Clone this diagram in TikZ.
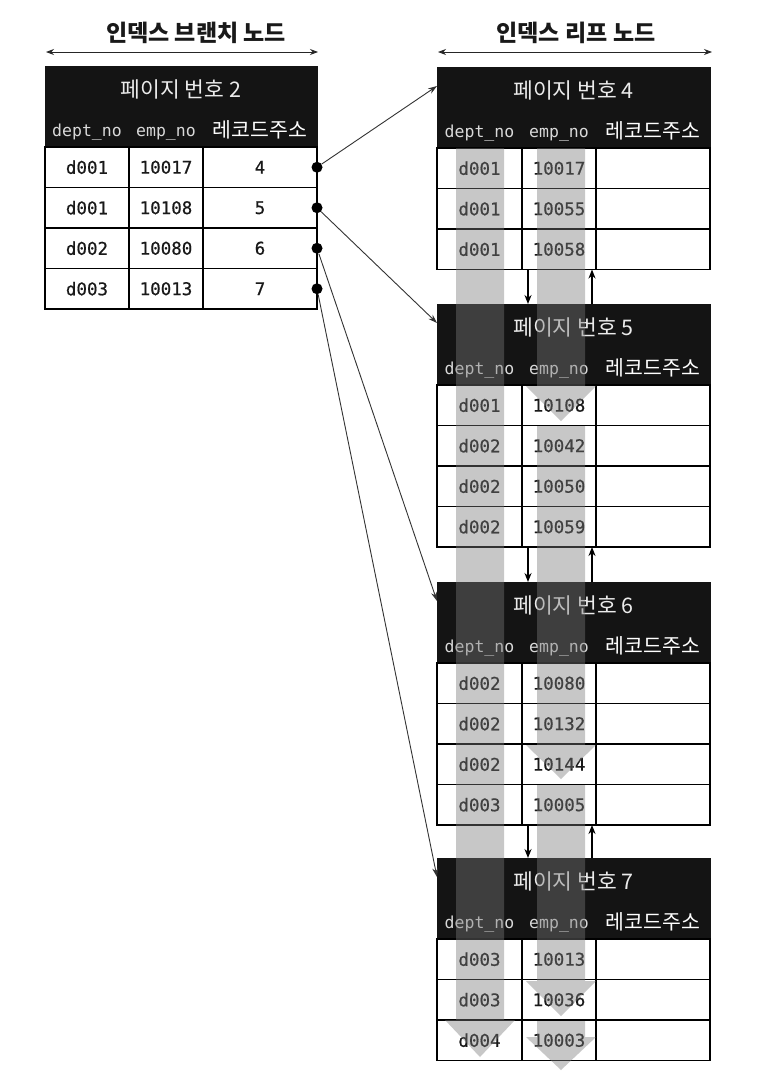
\documentclass[tikz,border=0pt]{standalone}
\usepackage{fontspec}
\setmainfont{Noto Sans CJK KR}
\newfontfamily\kr{Noto Sans CJK KR}
\newfontfamily\mono[FakeBold=0.6]{DejaVu Sans Mono}
\newfontfamily\monolight{DejaVu Sans Mono}
\usetikzlibrary{arrows.meta}

\tikzset{
  hdr/.style={fill=black!92, draw=black!92, line width=1pt, inner sep=0},
  cellbox/.style={draw=black, line width=1.3pt, fill=white, inner sep=0, minimum height=40.5pt,
    font=\mono\fontsize{17.5}{17.5}\selectfont, text=black!90},
  titletxt/.style={font=\kr\fontsize{21.5}{21.5}\selectfont, text=black!8, inner sep=0, anchor=base},
  colmono/.style={font=\monolight\fontsize{16.5}{16.5}\selectfont, text=black!15, inner sep=0, anchor=base},
  colkr/.style={font=\kr\fontsize{20.5}{20.5}\selectfont, text=white, inner sep=0, anchor=base},
  captxt/.style={font=\kr\bfseries\fontsize{23}{23}\selectfont, text=black!90, inner sep=0},
  dbl/.style={line width=0.9pt, black!85, {Stealth[length=8pt,width=6pt]}-{Stealth[length=8pt,width=6pt]}},
  conn/.style={line width=0.9pt, black!80, -{Stealth[length=9pt,width=6pt]}},
  link/.style={line width=1.6pt, black, -{Stealth[length=9pt,width=7pt]}},
  dotnode/.style={circle, fill=black, minimum size=11pt, inner sep=0},
  garrow/.style={fill=black!52, fill opacity=0.42}
}

% #1 name, #2 top, #3 title, #4 rows, #5 number of rows
\newcommand\leafpage[5]{%
  \node[hdr, anchor=north west, minimum width=273pt, minimum height=81pt] (#1) at (437,#2) {};
  \node[titletxt] (#1t) at (573.5,#2+31) {#3};
  \node[colmono] (#1h1) at (479.5,#2+70) {dept\_no};
  \node[colmono] (#1h2) at (559,#2+70) {emp\_no};
  \node[colkr] (#1h3) at (653,#2+71) {레코드주소};
  \foreach \ca/\cb [count=\i] in {#4} {
    \node[cellbox, minimum width=85pt] (#1a\i) at (479.5,#2+81+40.5*\i-20.25) {\ca};
    \node[cellbox, minimum width=74pt] (#1b\i) at (559,#2+81+40.5*\i-20.25) {\cb};
    \node[cellbox, minimum width=114pt] (#1c\i) at (653,#2+81+40.5*\i-20.25) {};
  }
  \coordinate (#1in) at (437,#2+19);
  \coordinate (#1td) at (528,#2);
  \coordinate (#1tu) at (592,#2);
  \coordinate (#1bd) at (528,#2+81+40.5*#5);
  \coordinate (#1bu) at (592,#2+81+40.5*#5);
}

\begin{document}
\begin{tikzpicture}[x=1pt,y=-1pt]
\useasboundingbox[fill=white] (0,0) rectangle (770,1090);

% captions
\node[captxt] (capb) at (196,33) {인덱스 브랜치 노드};
\node[captxt] (capl) at (576,33) {인덱스 리프 노드};
\coordinate (bl) at (46,52);
\coordinate (br) at (318,52);
\coordinate (ll) at (438,52);
\coordinate (lr) at (712,52);
\draw[dbl] (bl) -- (br);
\draw[dbl] (ll) -- (lr);

% branch node, page 2
\node[hdr, anchor=north west, minimum width=272pt, minimum height=81pt] (p2) at (45,66) {};
\node[titletxt] (p2t) at (181,97) {페이지 번호 2};
\node[colmono] (p2h1) at (87,136) {dept\_no};
\node[colmono] (p2h2) at (166,136) {emp\_no};
\node[colkr] (p2h3) at (260,137) {레코드주소};
\foreach \ca/\cb/\cc [count=\i] in {d001/10017/4, d001/10108/5, d002/10080/6, d003/10013/7} {
  \node[cellbox, minimum width=84pt] (p2a\i) at (87,147+40.5*\i-20.25) {\ca};
  \node[cellbox, minimum width=74pt] (p2b\i) at (166,147+40.5*\i-20.25) {\cb};
  \node[cellbox, minimum width=114pt] (p2c\i) at (260,147+40.5*\i-20.25) {\cc};
}

% leaf pages
\leafpage{p4}{67}{페이지 번호 4}{d001/10017, d001/10055, d001/10058}{3}
\leafpage{p5}{304}{페이지 번호 5}{d001/10108, d002/10042, d002/10050, d002/10059}{4}
\leafpage{p6}{582}{페이지 번호 6}{d002/10080, d002/10132, d002/10144, d003/10005}{4}
\leafpage{p7}{858}{페이지 번호 7}{d003/10013, d003/10036, d004/10003}{3}

% connectors from branch to leaves
\node[dotnode] (dot1) at (317,167.25) {};
\node[dotnode] (dot2) at (317,207.75) {};
\node[dotnode] (dot3) at (317,248.25) {};
\node[dotnode] (dot4) at (317,288.75) {};
\draw[conn] (dot1) -- (p4in);
\draw[conn] (dot2) -- (p5in);
\draw[conn] (dot3) -- (p6in);
\draw[conn] (dot4) -- (p7in);

% gray scan arrows
\fill[garrow] (456,148) -- (504,148) -- (504,1020) -- (515,1020) -- (480,1057) -- (445,1020) -- (456,1020) -- cycle;
\fill[garrow] (537,148) -- (585,148) -- (585,386) -- (596,386) -- (561,421) -- (526,386) -- (537,386) -- cycle;
\fill[garrow] (537,426) -- (585,426) -- (585,745) -- (596,745) -- (561,779) -- (526,745) -- (537,745) -- cycle;
\fill[garrow] (537,785) -- (585,785) -- (585,981) -- (596,981) -- (561,1016) -- (526,981) -- (537,981) -- cycle;
\fill[garrow] (537,1021) -- (585,1021) -- (585,1037) -- (596,1037) -- (561,1070) -- (526,1037) -- (537,1037) -- cycle;

% sibling links
\draw[link] (p4bd) -- (p5td);
\draw[link] (p5tu) -- (p4bu);
\draw[link] (p5bd) -- (p6td);
\draw[link] (p6tu) -- (p5bu);
\draw[link] (p6bd) -- (p7td);
\draw[link] (p7tu) -- (p6bu);
\end{tikzpicture}
\end{document}
